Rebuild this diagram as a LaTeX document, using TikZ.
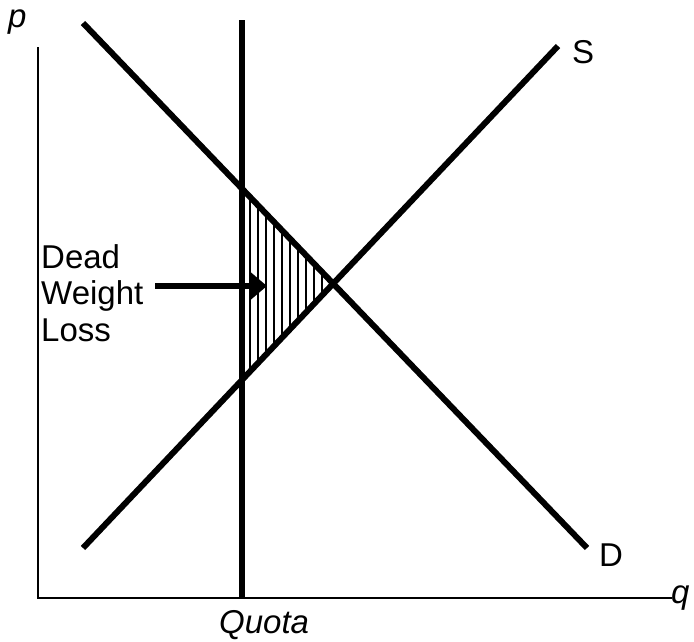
\documentclass[tikz,border=0pt]{standalone}
\usepackage{fontspec}
\setmainfont{Liberation Sans}
\usetikzlibrary{intersections,arrows.meta}
\begin{document}
\begin{tikzpicture}[x=1pt,y=-1pt,
  curve/.style={line width=6pt},
  quotaline/.style={line width=5.5pt},
  axis/.style={line width=2.2pt},
  hatchline/.style={line width=1.5pt},
  lbl/.style={font=\fontsize{33}{39}\selectfont, inner sep=0pt},
  ilbl/.style={font=\fontsize{33}{39}\selectfont\itshape, inner sep=0pt},
  dwlarrow/.style={line width=5.5pt, -{Triangle[length=16pt,width=26pt]}}]
\useasboundingbox (0,0) rectangle (694,641);
% axes
\coordinate (O) at (38,598);
\coordinate (Ytop) at (38,47);
\coordinate (Xend) at (672,598);
\draw[axis] (Ytop) -- (O) -- (Xend);
% curve end points
\coordinate (D1) at (83,23);
\coordinate (D2) at (587,548);
\coordinate (S1) at (83,548);
\coordinate (S2) at (558,46);
\coordinate (Q1) at (242,20);
\coordinate (Q2) at (242,598);
\path[name path=dem] (D1) -- (D2);
\path[name path=sup] (S1) -- (S2);
\path[name path=quo] (Q1) -- (Q2);
\path[name intersections={of=dem and sup, by=E}];
\path[name intersections={of=dem and quo, by=Qt}];
\path[name intersections={of=sup and quo, by=Qb}];
% hatching
\begin{scope}
  \clip (Qt) -- (E) -- (Qb) -- cycle;
  \foreach \x in {250,258,...,338}
    \draw[hatchline] (\x,150) -- (\x,420);
\end{scope}
% curves
\draw[curve] (D1) -- (D2);
\draw[curve] (S1) -- (S2);
\draw[quotaline] (Q1) -- (Q2);
% arrow
\coordinate (A1) at (155,286);
\coordinate (A2) at (267,286);
\draw[dwlarrow] (A1) -- (A2);
% labels
\node[ilbl, anchor=base west] (plbl) at (8,27) {p};
\node[ilbl, anchor=base west] (qlbl) at (671,603) {q};
\node[lbl, anchor=base west] (slbl) at (572,63) {S};
\node[lbl, anchor=base west] (dlbl) at (599,566) {D};
\node[ilbl, anchor=base west] (quotalbl) at (219,633) {Quota};
\node[lbl, anchor=base west] (dwl1) at (41,268) {Dead};
\node[lbl, anchor=base west] (dwl2) at (41,304) {Weight};
\node[lbl, anchor=base west] (dwl3) at (41,341) {Loss};
\end{tikzpicture}
\end{document}
